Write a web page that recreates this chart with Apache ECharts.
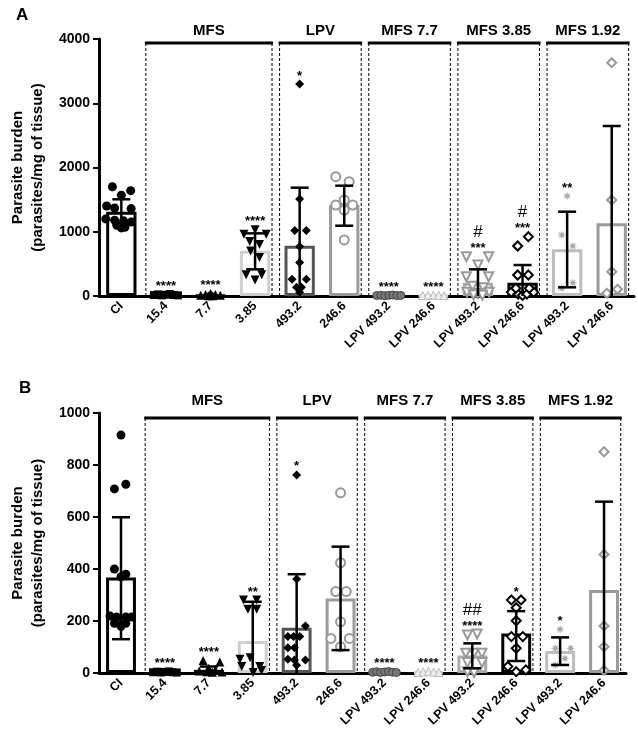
<!DOCTYPE html>
<html><head><meta charset="utf-8">
<script src="https://cdn.jsdelivr.net/npm/echarts/dist/echarts.min.js"></script>
<style>html,body{margin:0;padding:0;background:#fff}#c{width:638px;height:741px}</style>
</head><body><div id="c"></div>
<script>
// ---------- DATA ----------
const categories = ['CI','15.4','7.7','3.85','493.2','246.6','LPV 493.2','LPV 246.6','LPV 493.2','LPV 246.6','LPV 493.2','LPV 246.6'];
const groups = [
  {name:'MFS', first:1, last:3},
  {name:'LPV', first:4, last:5},
  {name:'MFS 7.7', first:6, last:7},
  {name:'MFS 3.85', first:8, last:9},
  {name:'MFS 1.92', first:10, last:11}
];
const yTicksA = [0,1000,2000,3000,4000];
const yTicksB = [0,200,400,600,800,1000];

const barsA   = [1312, 10, 10, 705, 783, 1416, 10, 10, 207, 207, 726, 1131];
const errLoA  = [1116, null, null, 415, -120, 1094, null, null, -20, -40, 135, -380];
const errHiA  = [1505, null, null, 975, 1686, 1717, null, null, 415, 482, 1312, 2646];
const starsA  = ['', '****', '****', '****', '*', '', '****', '****', '***', '***', '**', ''];
const hashA   = ['', '', '', '', '', '', '', '', '#', '#', '', ''];
const pointsA = [
  [[-0.2,1700],[0.21,1640],[0,1570],[-0.33,1400],[-0.15,1370],[0.22,1360],[-0.35,1200],[-0.15,1180],[0.05,1170],[0.22,1150],[-0.1,1100],[0.08,1070],[0,1060]],
  [[-0.27,15],[-0.18,25],[-0.09,10],[0,20],[0.09,30],[0.18,15],[0.27,10]],
  [[-0.22,10],[-0.11,25],[0,40],[0.11,25],[0.22,10],[-0.05,5],[0.05,5]],
  [[-0.25,960],[0,1030],[0.25,960],[-0.12,850],[0.1,800],[-0.1,700],[0.1,600],[-0.2,330],[0.15,330],[0,250]],
  [[0,3300],[0,1510],[-0.11,1020],[0.15,1020],[0,770],[0,520],[-0.17,260],[0.15,260],[-0.07,135],[0.04,135],[0,60]],
  [[-0.19,1857],[0.11,1780],[0,1494],[-0.19,1416],[0.19,1416],[0,1338],[0,872]],
  [[-0.27,8],[-0.18,12],[-0.09,5],[0,10],[0.09,15],[0.18,6],[0.27,9]],
  [[-0.24,6],[-0.12,10],[0,14],[0.12,10],[0.24,6]],
  [[-0.26,612],[0.24,612],[0,482],[-0.26,300],[0.24,300],[-0.12,150],[0.12,130],[-0.25,60],[0.25,60],[0,40],[-0.1,20],[0.1,10]],
  [[0.13,923],[-0.11,778],[-0.11,327],[0.13,327],[-0.25,60],[-0.1,30],[0,10],[0.1,30],[0.25,60],[-0.15,120],[0.15,120]],
  [[0,1556],[-0.12,950],[0.13,778],[0.13,207],[-0.12,120]],
  [[0,3631],[0,1494],[0,378],[-0.11,42],[0.13,104]]
];

const barsB   = [367, 3, 12, 123, 174, 287, 4, 4, 67, 152, 85, 319];
const errLoB  = [130, null, -5, -20, -30, 88, null, null, 18, 46, 31, -20];
const errHiB  = [599, null, 25, 274, 380, 486, null, null, 114, 238, 137, 659];
const starsB  = ['', '****', '****', '**', '*', '', '****', '****', '****', '*', '*', ''];
const hashB   = ['', '', '', '', '', '', '', '', '##', '', '', ''];
const pointsB = [
  [[0,915],[-0.15,708],[0.11,726],[-0.15,400],[0.11,380],[0,370],[-0.25,219],[-0.1,215],[0.11,215],[0.24,215],[-0.15,191],[0,185],[0.11,191],[0,180]],
  [[-0.27,3],[-0.18,5],[-0.09,2],[0,4],[0.09,6],[0.18,3],[0.27,2]],
  [[-0.13,48],[0.25,42],[0,18],[0.15,12],[-0.22,8],[-0.05,5],[0.08,3],[0.3,4]],
  [[-0.21,281],[0.09,281],[-0.11,245],[0.09,245],[-0.29,53],[-0.06,59],[-0.25,25],[0.16,25],[0.01,2],[0.2,10]],
  [[0,762],[0,362],[0.2,181],[-0.2,140],[-0.07,140],[0.07,140],[-0.2,97],[-0.05,97],[-0.2,53],[-0.05,50],[0.2,50],[0,30]],
  [[0,693],[0,424],[-0.11,313],[0.13,313],[0,197],[-0.22,133],[0.2,133],[0,101]],
  [[-0.27,3],[-0.18,5],[-0.09,2],[0,4],[0.09,6],[0.18,3],[0.27,2]],
  [[-0.24,2],[-0.12,4],[0,6],[0.12,4],[0.24,2]],
  [[-0.11,146],[0.11,150],[-0.15,76],[0.04,76],[0.22,76],[-0.11,40],[0.22,40],[-0.11,5],[0.04,2]],
  [[-0.11,281],[0.11,281],[0,251],[0,201],[-0.11,140],[0.15,140],[0,95],[-0.19,25],[0,5],[0.22,12]],
  [[0,168],[-0.11,95],[0.24,95],[0.11,56],[-0.11,31]],
  [[0,851],[0,456],[0,181],[0,101],[0,10]]
];

// ---------- STYLE ----------
const FONT = 'Liberation Sans, Arial, sans-serif';
const barFill   = ['#fff','#000','#000','#fff','#fff','#fff','#777','#e8e8e8','#fff','#fff','#fff','#fff'];
const barStroke = ['#000','#000','#000','#cfcfcf','#555','#9a9a9a','#555','#d5d5d5','#aaa','#000','#bdbdbd','#9a9a9a'];
const starPts = [];
for (let k = 0; k < 16; k++) {
  const a = k * Math.PI / 8 - Math.PI / 2, r = k % 2 ? 0.42 : 1;
  starPts.push((k ? 'L' : 'M') + (r * Math.cos(a)).toFixed(3) + ' ' + (r * Math.sin(a)).toFixed(3));
}
const asterisk = 'path://' + starPts.join(' ') + 'Z';
const symStyle = [
  {symbol:'circle', size:9, color:'#000'},
  {symbol:'rect', size:8, color:'#000'},
  {symbol:'triangle', size:9, color:'#000'},
  {symbol:'triangle', size:9, color:'#000', rotate:180},
  {symbol:'diamond', size:9, color:'#000'},
  {symbol:'circle', size:9, color:'#fff', border:'#999', bw:2},
  {symbol:'circle', size:8, color:'#777', border:'#444', bw:1},
  {symbol:'triangle', size:8, color:'#eee', border:'#bbb', bw:1},
  {symbol:'triangle', size:9, color:'#fff', border:'#999', bw:2, rotate:180},
  {symbol:'diamond', size:9, color:'#fff', border:'#000', bw:2},
  {symbol:asterisk, size:9, color:'#aaa'},
  {symbol:'diamond', size:9, color:'#fff', border:'#999', bw:2}
];

const panels = [
  {ticks:yTicksA, bars:barsA, lo:errLoA, hi:errHiA, stars:starsA, hash:hashA, points:pointsA,
   grid:{left:92, top:39, width:542, height:257}, boxTop:4, titleGap:12, letter:'A', letterPos:[16,7]},
  {ticks:yTicksB, bars:barsB, lo:errLoB, hi:errHiB, stars:starsB, hash:hashB, points:pointsB,
   grid:{left:92, top:413, width:534, height:260}, boxTop:5, titleGap:17, letter:'B', letterPos:[19,380]}
];

const grids = [], xAxes = [], yAxes = [], series = [], graphics = [];

panels.forEach((p, gi) => {
  grids.push(p.grid);
  const catIdx = gi * 2, valIdx = gi * 2 + 1;
  xAxes.push({
    type:'category', gridIndex:gi, data:categories.map((c, i) => String(i)),
    axisLine:{onZero:false, lineStyle:{color:'#000', width:3}},
    axisTick:{alignWithLabel:true, length:6, lineStyle:{color:'#000', width:2}},
    axisLabel:{rotate:45, margin:8, color:'#000', fontWeight:'bold', fontSize:12.5, fontFamily:FONT,
      formatter:(v, i) => categories[i], interval:0},
    splitLine:{show:false}
  });
  xAxes.push({type:'value', gridIndex:gi, min:-0.5, max:11.5, show:false});
  yAxes.push({
    type:'value', gridIndex:gi, min:p.ticks[0], max:p.ticks[p.ticks.length-1], interval:p.ticks[1]-p.ticks[0],
    axisLine:{show:true, onZero:false, lineStyle:{color:'#000', width:3}},
    axisTick:{show:true, length:6, lineStyle:{color:'#000', width:2}},
    axisLabel:{color:'#000', fontWeight:'bold', fontSize:14, fontFamily:FONT, margin:9, formatter:v => String(v)},
    splitLine:{show:false},
    name:'Parasite burden\n(parasites/mg of tissue)', nameLocation:'middle', nameRotate:90, nameGap:47,
    nameTextStyle:{color:'#000', fontWeight:'bold', fontSize:15, fontFamily:FONT, lineHeight:20}
  });

  // group boxes
  series.push({
    type:'custom', xAxisIndex:valIdx, yAxisIndex:gi, z:1, silent:true, animation:false,
    data: groups.map(g => [g.first, g.last]),
    renderItem: (params, api) => {
      const g = groups[params.dataIndex];
      const band = api.size([1, 0])[0];
      const xl = api.coord([api.value(0), 0])[0] - 0.45 * band;
      const xr = api.coord([api.value(1), 0])[0] + 0.38 * band;
      const yb = api.coord([0, 0])[1];
      const yt = params.coordSys.y + p.boxTop;
      return {type:'group', children:[
        {type:'line', shape:{x1:xl, y1:yt, x2:xl, y2:yb}, style:{stroke:'#000', lineWidth:1, lineDash:[3,2]}},
        {type:'line', shape:{x1:xr, y1:yt, x2:xr, y2:yb}, style:{stroke:'#000', lineWidth:1, lineDash:[3,2]}},
        {type:'line', shape:{x1:xl - 1, y1:yt, x2:xr + 1, y2:yt}, style:{stroke:'#000', lineWidth:3}},
        {type:'text', style:{text:g.name, x:(xl + xr) / 2, y:yt - p.titleGap, align:'center', verticalAlign:'middle',
          font:'bold 15px ' + FONT, fill:'#000'}}
      ]};
    }
  });

  // bars
  series.push({
    type:'bar', xAxisIndex:catIdx, yAxisIndex:gi, barWidth:'68%', z:2, silent:true, animation:false,
    data: p.bars.map((v, i) => ({value:v, itemStyle:{color:barFill[i], borderColor:barStroke[i], borderWidth:3}}))
  });

  // points
  p.points.forEach((pts, i) => {
    const s = symStyle[i];
    series.push({
      type:'scatter', xAxisIndex:valIdx, yAxisIndex:gi, z:3, silent:true, animation:false, clip:false,
      symbol:s.symbol, symbolSize:s.size, symbolRotate:s.rotate || 0,
      itemStyle:{color:s.color, borderColor:s.border || s.color, borderWidth:s.bw || 0, opacity:1},
      data: pts.map(([o, v]) => [i + o, v])
    });
  });

  // error bars
  const errData = [];
  p.hi.forEach((h, i) => { if (h != null) errData.push([i, p.lo[i], h]); });
  series.push({
    type:'custom', xAxisIndex:valIdx, yAxisIndex:gi, z:4, silent:true, animation:false,
    data: errData,
    renderItem: (params, api) => {
      const x = api.value(0), lo = api.value(1), hi = api.value(2);
      const t = api.coord([x, hi]), b = api.coord([x, Math.max(lo, 0)]);
      const cap = 9;
      const ch = [
        {type:'line', shape:{x1:t[0], y1:t[1], x2:b[0], y2:b[1]}, style:{stroke:'#000', lineWidth:2.5}},
        {type:'line', shape:{x1:t[0]-cap, y1:t[1], x2:t[0]+cap, y2:t[1]}, style:{stroke:'#000', lineWidth:2.5}}
      ];
      if (lo > 0) ch.push({type:'line', shape:{x1:b[0]-cap, y1:b[1], x2:b[0]+cap, y2:b[1]}, style:{stroke:'#000', lineWidth:2.5}});
      return {type:'group', children:ch};
    }
  });

  // significance labels
  const annData = [];
  p.stars.forEach((s, i) => {
    if (!s) return;
    let top = Math.max(p.bars[i], p.hi[i] == null ? 0 : p.hi[i]);
    p.points[i].forEach(pt => { top = Math.max(top, pt[1]); });
    annData.push([i, top]);
  });
  series.push({
    type:'custom', xAxisIndex:valIdx, yAxisIndex:gi, z:5, silent:true, animation:false,
    data: annData,
    renderItem: (params, api) => {
      const i = api.value(0);
      const c = api.coord([i, api.value(1)]);
      const ch = [{type:'text', style:{text:p.stars[i], x:c[0], y:c[1] - 8, align:'center', verticalAlign:'middle',
        font:'bold 13px ' + FONT, fill:'#000'}}];
      if (p.hash[i]) ch.push({type:'text', style:{text:p.hash[i], x:c[0], y:c[1] - 24, align:'center', verticalAlign:'middle',
        font:'17px ' + FONT, fill:'#000'}});
      return {type:'group', children:ch};
    }
  });

  graphics.push({type:'text', left:p.letterPos[0], top:p.letterPos[1],
    style:{text:p.letter, font:'bold 17px ' + FONT, fill:'#000'}});
});

const chart = echarts.init(document.getElementById('c'), null, {renderer:'canvas'});
chart.setOption({
  animation:false,
  backgroundColor:'#fff',
  grid:grids, xAxis:xAxes, yAxis:yAxes, series:series, graphic:graphics
});
</script>
</body></html>
